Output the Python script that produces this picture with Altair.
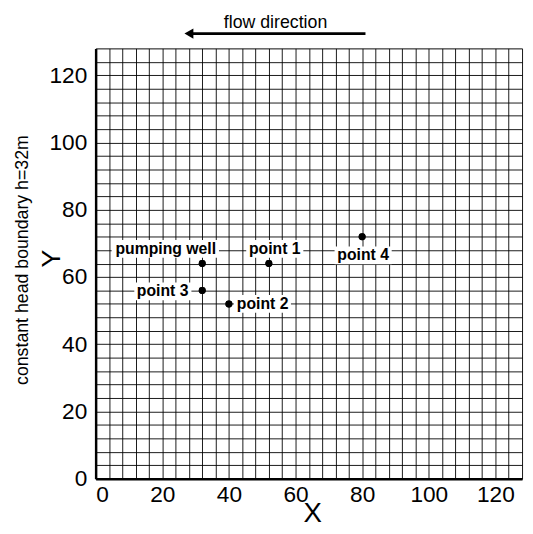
import altair as alt
import pandas as pd

# ---- data ----
POINT_NAMES = ["pumping well", "point 1", "point 2", "point 3", "point 4"]
POINT_X = [32, 52, 40, 32, 80]
POINT_Y = [64, 64, 52, 56, 72]

GRID_VALUES = list(range(0, 129, 4))
AXIS_DOMAIN = [0, 128]

FLOW_TEXT = "flow direction"
FLOW_X_FROM = 81
FLOW_X_TO = 28
FLOW_TEXT_X = 54
SIDE_TEXT = "constant head boundary h=32m"

# ---- label styles (pixel offsets, not data) ----
LABEL_STYLE = {
    "pumping well": dict(align="right", dx=14, dy=-15, box=(-92, 17, -24, -6)),
    "point 1": dict(align="center", dx=6, dy=-15, box=(-23, 35, -24, -6)),
    "point 2": dict(align="left", dx=8, dy=0, box=(5, 63, -9, 9)),
    "point 3": dict(align="right", dx=-14, dy=1, box=(-69, -11, -8, 10)),
    "point 4": dict(align="center", dx=1, dy=19, box=(-28, 30, 10, 28)),
}

FONT = "Liberation Sans"

df = pd.DataFrame({"name": POINT_NAMES, "x": POINT_X, "y": POINT_Y})

xscale = alt.Scale(domain=AXIS_DOMAIN, nice=False, zero=True)
yscale = alt.Scale(domain=AXIS_DOMAIN, nice=False, zero=True)

label_expr = "datum.value % 20 === 0 ? datum.label : ''"

x_axis = alt.Axis(
    values=GRID_VALUES, tickCount=60, labelExpr=label_expr, grid=True, gridColor="black",
    gridWidth=1, gridOpacity=0.9, ticks=False, domainWidth=2.5, domainColor="black",
    labelFontSize=23, labelFont=FONT, labelColor="black", labelPadding=5,
    labelOverlap=False, title="X", titleFont=FONT, titleFontSize=28,
    titleFontWeight="normal", titleColor="black", titleX=220, titleY=43,
    titleBaseline="alphabetic",
)
y_axis = alt.Axis(
    values=GRID_VALUES, tickCount=60, labelExpr=label_expr, grid=True, gridColor="black",
    gridWidth=1, gridOpacity=0.9, ticks=False, domainWidth=2.5, domainColor="black",
    labelFontSize=23, labelFont=FONT, labelColor="black", labelPadding=9,
    labelOverlap=False, title="Y", titleFont=FONT, titleFontSize=27,
    titleFontWeight="normal", titleColor="black", titleX=-37, titleY=213,
    titleBaseline="alphabetic", titleAlign="center",
)

base = alt.Chart(df)

points = base.mark_circle(size=50, color="black", opacity=1).encode(
    x=alt.X("x:Q", scale=xscale, axis=x_axis),
    y=alt.Y("y:Q", scale=yscale, axis=y_axis),
)

box_layers = []
text_layers = []
for name in POINT_NAMES:
    st = LABEL_STYLE[name]
    x0, x1, y0, y1 = st["box"]
    sub = base.transform_filter(alt.datum.name == name)
    box_layers.append(
        sub.mark_rect(color="white", xOffset=x0, x2Offset=x1, yOffset=y0, y2Offset=y1).encode(
            x=alt.X("x:Q", scale=xscale), x2="x:Q",
            y=alt.Y("y:Q", scale=yscale), y2="y:Q",
        )
    )
    text_layers.append(
        sub.mark_text(align=st["align"], baseline="middle", dx=st["dx"], dy=st["dy"],
                      font=FONT, fontSize=16, fontWeight="bold", color="black").encode(
            x=alt.X("x:Q", scale=xscale), y=alt.Y("y:Q", scale=yscale), text="name:N"
        )
    )

ann = pd.DataFrame({"x0": [FLOW_X_FROM], "x1": [FLOW_X_TO], "tx": [FLOW_TEXT_X],
                    "t": [FLOW_TEXT], "s": [SIDE_TEXT]})
annb = alt.Chart(ann)
arrow_line = annb.mark_rule(color="black", strokeWidth=3, clip=False).encode(
    x=alt.X("x0:Q", scale=xscale), x2="x1:Q", y=alt.value(-15)
)
arrow_head = annb.mark_point(shape="triangle-left", filled=True, size=110, color="black",
                             opacity=1, clip=False).encode(
    x=alt.X("x1:Q", scale=xscale), y=alt.value(-15)
)
flow_text = annb.mark_text(font=FONT, fontSize=18, color="black", baseline="middle",
                           align="center", clip=False).encode(
    x=alt.X("tx:Q", scale=xscale), y=alt.value(-26), text="t:N"
)
side_text = annb.mark_text(font=FONT, fontSize=18, color="black", baseline="middle",
                           align="center", angle=270).encode(
    x=alt.value(-74), y=alt.value(215), text="s:N"
)

chart = alt.layer(
    points, *box_layers, points, *text_layers, arrow_line, arrow_head, flow_text, side_text
).properties(
    width=433, height=437,
    padding={"left": 89, "top": 37, "right": 3, "bottom": 45},
    autosize=alt.AutoSizeParams(type="none"),
).configure_view(stroke=None).configure(background="white")

chart.save("out.html", embed_options={"renderer": "svg", "actions": False})
